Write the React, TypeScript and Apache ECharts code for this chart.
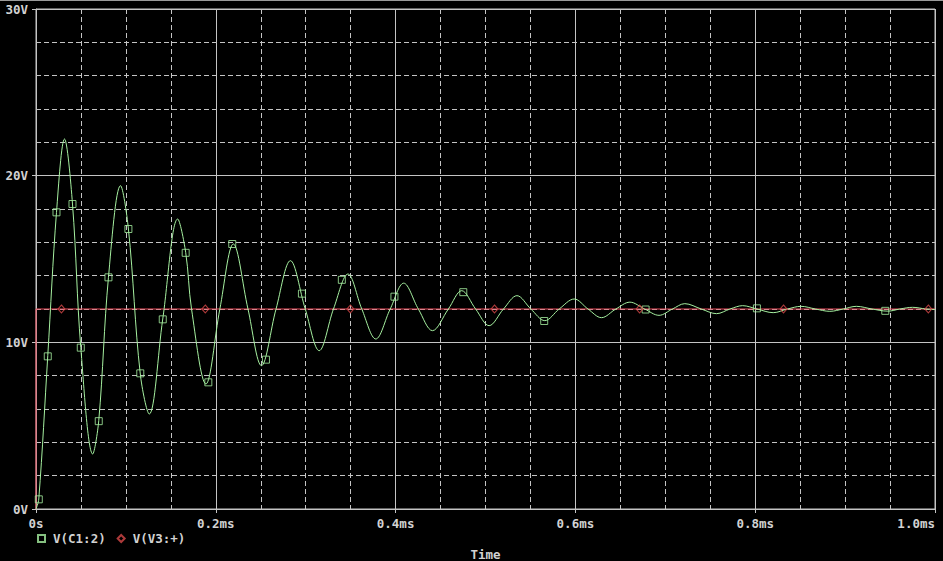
import React, { useEffect, useRef } from 'react';
import * as echarts from 'echarts';

// Tick labels
const xTickLabels = ['0s', '0.2ms', '0.4ms', '0.6ms', '0.8ms', '1.0ms'];
const yTickLabels = ['0V', '10V', '20V', '30V'];

// V(C1:2) trace: [time (ms), volts]
const c1Curve: [number, number][] = [
  [0, 0], [0.0031, 0.6], [0.0131, 9.2], [0.0228, 17.8], [0.0317, 22.2],
  [0.0406, 18.3], [0.0498, 9.7], [0.0631, 3.3], [0.0698, 5.3], [0.0806, 13.9],
  [0.094, 19.4], [0.1028, 16.8], [0.116, 8.1], [0.126, 5.7], [0.141, 11.4],
  [0.1576, 17.4], [0.1665, 15.4], [0.173, 12.0], [0.189, 7.5], [0.2045, 12.0],
  [0.2195, 15.9], [0.2358, 12.0], [0.2508, 8.6], [0.267, 12.0], [0.283, 14.9],
  [0.2995, 12.0], [0.315, 9.5], [0.3309, 12.0], [0.347, 14.1], [0.3624, 12.0],
  [0.378, 10.2], [0.394, 12.0], [0.409, 13.55], [0.4253, 12.0], [0.441, 10.7],
  [0.4587, 12.0], [0.4735, 13.1], [0.489, 12.0], [0.504, 11.0], [0.52, 12.0],
  [0.535, 12.8], [0.5505, 12.0], [0.566, 11.3], [0.582, 12.0], [0.5987, 12.6],
  [0.614, 12.0], [0.629, 11.48], [0.645, 12.0], [0.6606, 12.41], [0.677, 12.0],
  [0.693, 11.62], [0.708, 12.0], [0.7217, 12.32], [0.74, 12.0], [0.757, 11.72],
  [0.772, 12.0], [0.786, 12.2], [0.802, 12.0], [0.82, 11.78], [0.836, 12.0],
  [0.851, 12.16], [0.867, 12.0], [0.883, 11.86], [0.898, 12.0], [0.9125, 12.16],
  [0.93, 12.0], [0.9475, 11.87], [0.961, 12.0], [0.975, 12.1], [0.99, 12.0],
  [1.0, 11.97],
];

// Square markers on V(C1:2)
const c1Markers: [number, number][] = [
  [0.0031, 0.58], [0.0131, 9.16], [0.0228, 17.8], [0.0406, 18.3], [0.0498, 9.68],
  [0.0698, 5.27], [0.0806, 13.9], [0.1028, 16.8], [0.116, 8.14], [0.141, 11.38],
  [0.1665, 15.37], [0.1917, 7.6], [0.2183, 15.9], [0.2558, 8.96], [0.2958, 12.92],
  [0.3402, 13.75], [0.3987, 12.74], [0.4753, 13.01], [0.5653, 11.28], [0.6781, 11.97],
  [0.8019, 12.04], [0.9447, 11.89],
];

// V(V3:+) step source
const v3Curve: [number, number][] = [[0, 0], [0, 12], [1.0, 12]];
const v3MarkerTimes = [0.0283, 0.1883, 0.3497, 0.51, 0.6714, 0.8315, 0.9926];
const v3Level = 12;

const GREEN = '#a6f0a0';
const RED = '#ec4c5c';
const TEXT = '#d2d2d2';
const GRID = '#c4c4c4';
const FONT = 'DejaVu Sans Mono';

export default function App() {
  const ref = useRef<HTMLDivElement>(null);
  useEffect(() => {
    if (!ref.current) return;
    const chart = echarts.init(ref.current, undefined, { renderer: 'svg' });
    const v3Markers = v3MarkerTimes.map((t) => [t, v3Level]);
    const txt = { color: TEXT, fontFamily: FONT, fontSize: 12.5, fontWeight: 'bold' as const };
    chart.setOption({
      animation: false,
      backgroundColor: '#000000',
      textStyle: { fontFamily: FONT },
      grid: {
        left: 36, right: 8, top: 9, bottom: 52,
        outerBoundsMode: 'none', containLabel: false,
        show: true, borderColor: GRID, borderWidth: 1, backgroundColor: 'transparent',
      },
      graphic: [
        { type: 'rect', left: 0, top: 0, shape: { width: 943, height: 1 }, style: { fill: '#9a9a9a' }, silent: true },
      ],
      legend: {
        data: ['V(C1:2)', 'V(V3:+)'],
        left: 32, top: 527,
        itemWidth: 7, itemHeight: 7, itemGap: 11,
        textStyle: { ...txt, padding: [0, 0, 0, 3] },
        selectedMode: false,
      },
      xAxis: {
        type: 'value', min: 0, max: 1.0, interval: 0.2,
        name: 'Time', nameLocation: 'middle', nameGap: 39,
        nameTextStyle: txt,
        axisLine: { show: true, onZero: false, lineStyle: { color: GRID, width: 1 } },
        axisTick: { show: true, length: 4, lineStyle: { color: GRID } },
        axisLabel: {
          ...txt, margin: 8,
          alignMaxLabel: 'right',
          formatter: (_v: number, i: number) => xTickLabels[i],
        },
        splitLine: { show: true, lineStyle: { color: GRID, width: 1, type: 'solid' } },
        minorTick: { show: false, splitNumber: 4 },
        minorSplitLine: { show: true, lineStyle: { color: GRID, width: 1, type: [5, 3] } },
      },
      yAxis: {
        type: 'value', min: 0, max: 30, interval: 10,
        axisLine: { show: true, onZero: false, lineStyle: { color: GRID, width: 1 } },
        axisTick: { show: true, length: 4, lineStyle: { color: GRID } },
        axisLabel: {
          ...txt, margin: 8,
          formatter: (_v: number, i: number) => yTickLabels[i],
        },
        splitLine: { show: true, lineStyle: { color: GRID, width: 1, type: 'solid' } },
        minorTick: { show: false, splitNumber: 5 },
        minorSplitLine: { show: true, lineStyle: { color: GRID, width: 1, type: [5, 3] } },
      },
      series: [
        {
          name: 'v3 trace', type: 'line', data: v3Curve, showSymbol: false,
          lineStyle: { color: RED, width: 1 }, z: 3, silent: true,
        },
        {
          name: 'c1 trace', type: 'line', data: c1Curve, showSymbol: false, smooth: 0.35,
          lineStyle: { color: GREEN, width: 1 }, z: 4, silent: true,
        },
        {
          name: 'V(C1:2)', type: 'scatter', data: c1Markers, symbol: 'rect', symbolSize: 7,
          itemStyle: { color: 'rgba(0,0,0,0)', borderColor: GREEN, borderWidth: 1 }, z: 5,
        },
        {
          name: 'V(V3:+)', type: 'scatter', data: v3Markers, symbol: 'diamond', symbolSize: [7, 8],
          itemStyle: { color: 'rgba(0,0,0,0)', borderColor: '#d84848', borderWidth: 1 }, z: 5,
        },
      ],
    });
    return () => chart.dispose();
  }, []);
  return (
    <div
      ref={ref}
      style={{ position: 'fixed', left: 0, top: 0, width: 943, height: 561 }}
    />
  );
}
